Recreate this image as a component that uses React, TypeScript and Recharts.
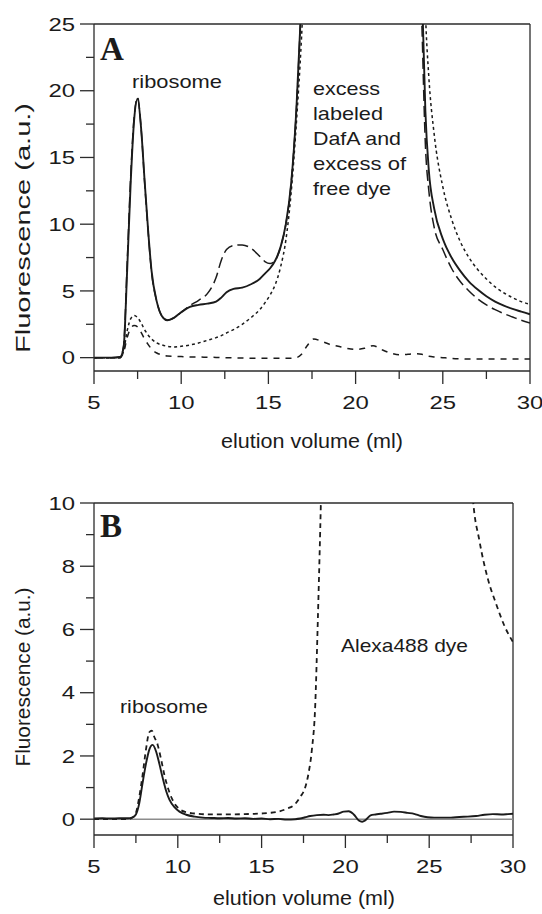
import React from "react";
import { LineChart, Line, XAxis, YAxis, ReferenceLine } from "recharts";

const SANS = '"Liberation Sans", Arial, Helvetica, sans-serif';
const SERIF = '"Liberation Serif", "Times New Roman", serif';
const INK = "#1b1b1b";
const FRAME = "#2b2b2b";

// axis ticks
const volumeTicks = [5, 7.5, 10, 12.5, 15, 17.5, 20, 22.5, 25, 27.5, 30];
const fluorTicksA = [0, 2.5, 5, 7.5, 10, 12.5, 15, 17.5, 20, 22.5, 25];
const fluorTicksB = [0, 1, 2, 3, 4, 5, 6, 7, 8, 9, 10];

// panel A: elution volume (ml)
const volA = [
  5, 6, 6.5, 6.7, 6.9, 7.1, 7.3, 7.5, 7.7, 7.9,
  8.1, 8.3, 8.6, 8.9, 9.2, 9.6, 10, 10.5, 11, 11.5,
  12, 12.3, 12.6, 13, 13.5, 14, 14.5, 14.8, 15.1, 15.4,
  15.7, 16, 16.3, 16.6, 16.9, 17.2, 17.6, 18, 18.5, 19,
  19.5, 20, 20.5, 21, 21.5, 22, 22.5, 23, 23.5, 23.8,
  24, 24.2, 24.5, 25, 25.5, 26, 26.5, 27, 27.5, 28,
  28.5, 29, 29.5, 30,
];
const aSolid = [
  0, 0, 0.05, 0.8, 6.5, 13, 17.8, 19.4, 17.2, 13.3,
  9.6, 6.5, 4.2, 3.1, 2.8, 3.0, 3.4, 3.8, 3.95, 4.05,
  4.2, 4.5, 4.9, 5.15, 5.25, 5.5, 5.9, 6.3, 6.7, 7.3,
  8.3, 10, 13, 18.5, 27, 36, 50, 65, 80, 90,
  95, 98, 100, 100, 98, 90, 75, 60, 42, 28,
  18.5, 14, 11.2, 8.9, 7.5, 6.5, 5.7, 5.1, 4.6, 4.2,
  3.9, 3.65, 3.45, 3.25,
];
const aDashDot = [
  0, 0, 0.05, 0.9, 7, 13.5, 18, 19.5, 17.2, 13.2,
  9.5, 6.4, 4.2, 3.1, 2.8, 3.0, 3.4, 3.9, 4.3, 4.8,
  6.0, 7.3, 8.1, 8.4, 8.45, 8.2, 7.6, 7.2, 7.05, 7.3,
  8.3, 10, 13, 18.5, 27, 36, 50, 65, 80, 90,
  95, 98, 100, 100, 98, 90, 75, 58, 38, 25,
  16, 12.5, 9.8, 8.1, 6.7, 5.7, 5.0, 4.4, 3.95, 3.6,
  3.3, 3.05, 2.8, 2.6,
];
const aDotted = [
  0, 0, 0, 0.5, 2.0, 2.9, 3.15, 3.0, 2.6, 2.1,
  1.7, 1.4, 1.1, 0.95, 0.85, 0.8, 0.85, 0.95, 1.1, 1.3,
  1.5, 1.65, 1.85, 2.1, 2.5, 3.0, 3.6, 4.1, 4.7, 5.5,
  6.8, 8.8, 12.3, 17.5, 24, 33, 48, 62, 78, 90,
  96, 100, 102, 102, 100, 95, 85, 72, 58, 36,
  26, 21, 16.8, 12.8, 10.4, 8.7, 7.5, 6.6, 5.9, 5.3,
  4.85, 4.5, 4.2, 4.0,
];
const aDashed = [
  0, 0, 0, 0.4, 1.5, 2.2, 2.4, 2.3, 1.9, 1.4,
  1.0, 0.65, 0.35, 0.2, 0.12, 0.1, 0.08, 0.05, 0.05, 0.03,
  0.02, 0, 0, -0.02, -0.03, -0.05, -0.05, -0.05, -0.05, -0.05,
  -0.05, -0.05, -0.04, 0, 0.25, 0.85, 1.4, 1.25, 1.0, 0.85,
  0.7, 0.62, 0.7, 0.9, 0.6, 0.35, 0.22, 0.25, 0.3, 0.25,
  0.15, 0.1, 0.05, 0, -0.05, -0.08, -0.1, -0.1, -0.1, -0.1,
  -0.1, -0.1, -0.1, -0.1,
];

// panel B
const bSolidVol = [
  5, 5.5, 6, 6.5, 7, 7.3, 7.5, 7.7, 7.9, 8.1,
  8.3, 8.5, 8.7, 8.9, 9.1, 9.3, 9.5, 9.8, 10.1, 10.5,
  11, 11.5, 12, 12.5, 13, 13.5, 14, 14.5, 15, 15.5,
  16, 16.5, 17, 17.3, 17.6, 17.9, 18.3, 18.7, 19, 19.3,
  19.6, 19.9, 20.2, 20.5, 20.8, 21, 21.2, 21.5, 21.8, 22.1,
  22.5, 22.9, 23.3, 23.7, 24.1, 24.5, 24.9, 25.3, 25.8, 26.3,
  26.8, 27.3, 27.8, 28.3, 28.8, 29.3, 29.7, 30,
];
const bSolidVal = [
  0.02, 0.03, 0.02, 0.03, 0.03, 0.06, 0.15, 0.5, 1.15, 1.75,
  2.2, 2.35, 2.15, 1.75, 1.3, 0.9, 0.62, 0.38, 0.24, 0.14,
  0.08, 0.05, 0.04, 0.03, 0.04, 0.02, 0.03, 0.01, 0.02, 0.0,
  0.01, -0.01, 0.0, 0.02, 0.06, 0.1, 0.13, 0.14, 0.13, 0.15,
  0.18, 0.24, 0.25, 0.15, -0.04, -0.08, -0.03, 0.12, 0.15, 0.17,
  0.2, 0.24, 0.23, 0.2, 0.17, 0.1, 0.06, 0.05, 0.05, 0.05,
  0.07, 0.08, 0.1, 0.14, 0.16, 0.15, 0.16, 0.17,
];
const bDyeVol = [
  5, 6, 7, 7.3, 7.5, 7.7, 7.9, 8.1, 8.3, 8.45,
  8.6, 8.8, 9.0, 9.2, 9.5, 9.8, 10.1, 10.5, 11, 12,
  13, 14, 15, 15.5, 16, 16.5, 17, 17.3, 17.6, 17.8,
  18.0, 18.2, 18.35, 18.5, 18.65, 18.9, 19.3, 20, 23, 26,
  26.8, 27.3, 27.6, 28, 28.5, 29, 29.5, 30,
];
const bDyeVal = [
  0, 0, 0, 0.05, 0.2, 0.7, 1.4, 2.2, 2.75, 2.8,
  2.6, 2.35, 1.9, 1.4, 0.85, 0.5, 0.32, 0.22, 0.18, 0.15,
  0.15, 0.16, 0.18, 0.2, 0.24, 0.33, 0.48, 0.7, 1.0, 1.45,
  2.2, 3.6, 6.2, 9.2, 12.5, 16, 22, 35, 45, 35,
  20, 13, 10.2, 8.8, 7.6, 6.8, 6.1, 5.6,
];

const panelA = volA.map((v, i) => ({
  v,
  solid: aSolid[i],
  dashDot: aDashDot[i],
  dotted: aDotted[i],
  dashed: aDashed[i],
}));
const panelBSolid = bSolidVol.map((v, i) => ({ v, f: bSolidVal[i] }));
const panelBDye = bDyeVol.map((v, i) => ({ v, f: bDyeVal[i] }));

function Txt({ x, y, w, size = 19, anchor = "start", family = SANS, weight, rotate, children }: any) {
  return (
    <text
      x={x}
      y={y}
      fontSize={size}
      fontFamily={family}
      fontWeight={weight}
      textAnchor={anchor}
      fill={INK}
      textLength={w}
      lengthAdjust={w ? "spacingAndGlyphs" : undefined}
      transform={rotate ? `rotate(-90 ${x} ${y})` : undefined}
    >
      {children}
    </text>
  );
}

function XTick(props: any) {
  const { x, y, payload } = props;
  const v = payload.value;
  const major = v % 5 === 0;
  return (
    <g>
      <line x1={x} x2={x} y1={y} y2={y + (major ? 13 : 8)} stroke={FRAME} strokeWidth={1.3} />
      {major && (
        <Txt x={x} y={y + 38} anchor="middle" w={String(v).length * 13.3}>
          {v}
        </Txt>
      )}
    </g>
  );
}

const makeYTick = (step: number) => (props: any) => {
  const { x, y, payload } = props;
  const v = payload.value;
  const major = v % step === 0;
  return (
    <g>
      <line x1={x - (major ? 14 : 8)} x2={x} y1={y} y2={y} stroke={FRAME} strokeWidth={1.3} />
      {major && (
        <Txt x={x - 19} y={y + 6.6} anchor="end" w={String(v).length * 13.3}>
          {v}
        </Txt>
      )}
    </g>
  );
};
const yTickA = makeYTick(5);
const yTickB = makeYTick(2);

const axisLine = { stroke: FRAME, strokeWidth: 1.3 };
const lineCommon = {
  type: "monotone" as const,
  dot: false,
  activeDot: false,
  isAnimationActive: false,
  stroke: INK,
};

export default function App() {
  return (
    <div style={{ position: "absolute", left: 0, top: 0, width: 542, height: 914, background: "#fff" }}>
      <div style={{ position: "absolute", left: 0, top: 0 }}>
        <LineChart width={542} height={460} data={panelA} margin={{ top: 24, right: 12, bottom: 0, left: 0 }}>
          <XAxis
            type="number"
            dataKey="v"
            domain={[5, 30]}
            ticks={volumeTicks}
            interval={0}
            height={89}
            tickSize={0}
            tickMargin={0}
            tickLine={false}
            tick={XTick}
            axisLine={axisLine}
            allowDataOverflow
          />
          <YAxis
            type="number"
            domain={[-1, 25]}
            ticks={fluorTicksA}
            interval={0}
            width={94}
            tickSize={0}
            tickMargin={0}
            tickLine={false}
            tick={yTickA}
            axisLine={axisLine}
            allowDataOverflow
          />
          <ReferenceLine y={25} stroke={FRAME} strokeWidth={1.3} />
          <ReferenceLine x={30} stroke={FRAME} strokeWidth={1.3} />
          <Line {...lineCommon} dataKey="dashed" strokeWidth={1.5} strokeDasharray="6 6" />
          <Line {...lineCommon} dataKey="dotted" strokeWidth={1.5} strokeDasharray="3 3" />
          <Line {...lineCommon} dataKey="dashDot" strokeWidth={1.5} strokeDasharray="11 5" />
          <Line {...lineCommon} dataKey="solid" strokeWidth={1.9} />
        </LineChart>
      </div>
      <div style={{ position: "absolute", left: 0, top: 460 }}>
        <LineChart width={542} height={454} margin={{ top: 43, right: 29, bottom: 0, left: 0 }}>
          <XAxis
            type="number"
            dataKey="v"
            domain={[5, 30]}
            ticks={volumeTicks}
            interval={0}
            height={79}
            tickSize={0}
            tickMargin={0}
            tickLine={false}
            tick={XTick}
            axisLine={axisLine}
            allowDataOverflow
          />
          <YAxis
            type="number"
            domain={[-0.5, 10]}
            ticks={fluorTicksB}
            interval={0}
            width={94}
            tickSize={0}
            tickMargin={0}
            tickLine={false}
            tick={yTickB}
            axisLine={axisLine}
            allowDataOverflow
          />
          <ReferenceLine y={10} stroke={FRAME} strokeWidth={1.3} />
          <ReferenceLine x={30} stroke={FRAME} strokeWidth={1.3} />
          <ReferenceLine y={0} stroke="#8c8c8c" strokeWidth={1.6} />
          <Line {...lineCommon} data={panelBDye} dataKey="f" strokeWidth={1.8} strokeDasharray="5 4" />
          <Line {...lineCommon} data={panelBSolid} dataKey="f" strokeWidth={1.9} />
        </LineChart>
      </div>
      <svg
        width={542}
        height={914}
        style={{ position: "absolute", left: 0, top: 0, pointerEvents: "none" }}
      >
        <Txt x={100} y={60} size={33} family={SERIF} weight="bold">A</Txt>
        <Txt x={132} y={88} size={19} w={90}>ribosome</Txt>
        <Txt x={313} y={95} size={19} w={67}>excess</Txt>
        <Txt x={313} y={120} size={19} w={70}>labeled</Txt>
        <Txt x={313} y={145} size={19} w={88}>DafA and</Txt>
        <Txt x={313} y={170} size={19} w={93}>excess of</Txt>
        <Txt x={313} y={195} size={19} w={78}>free dye</Txt>
        <Txt x={312} y={448} size={20} anchor="middle" w={182}>elution volume (ml)</Txt>
        <Txt x={30} y={228} size={20} anchor="middle" rotate w={250}>Fluorescence (a.u.)</Txt>

        <Txt x={100} y={537} size={33} family={SERIF} weight="bold">B</Txt>
        <Txt x={120} y={713} size={19} w={88}>ribosome</Txt>
        <Txt x={341} y={652} size={19} w={127}>Alexa488 dye</Txt>
        <Txt x={304} y={905} size={20} anchor="middle" w={182}>elution volume (ml)</Txt>
        <Txt x={30} y={677} size={20} anchor="middle" rotate w={179}>Fluorescence (a.u.)</Txt>
      </svg>
    </div>
  );
}
